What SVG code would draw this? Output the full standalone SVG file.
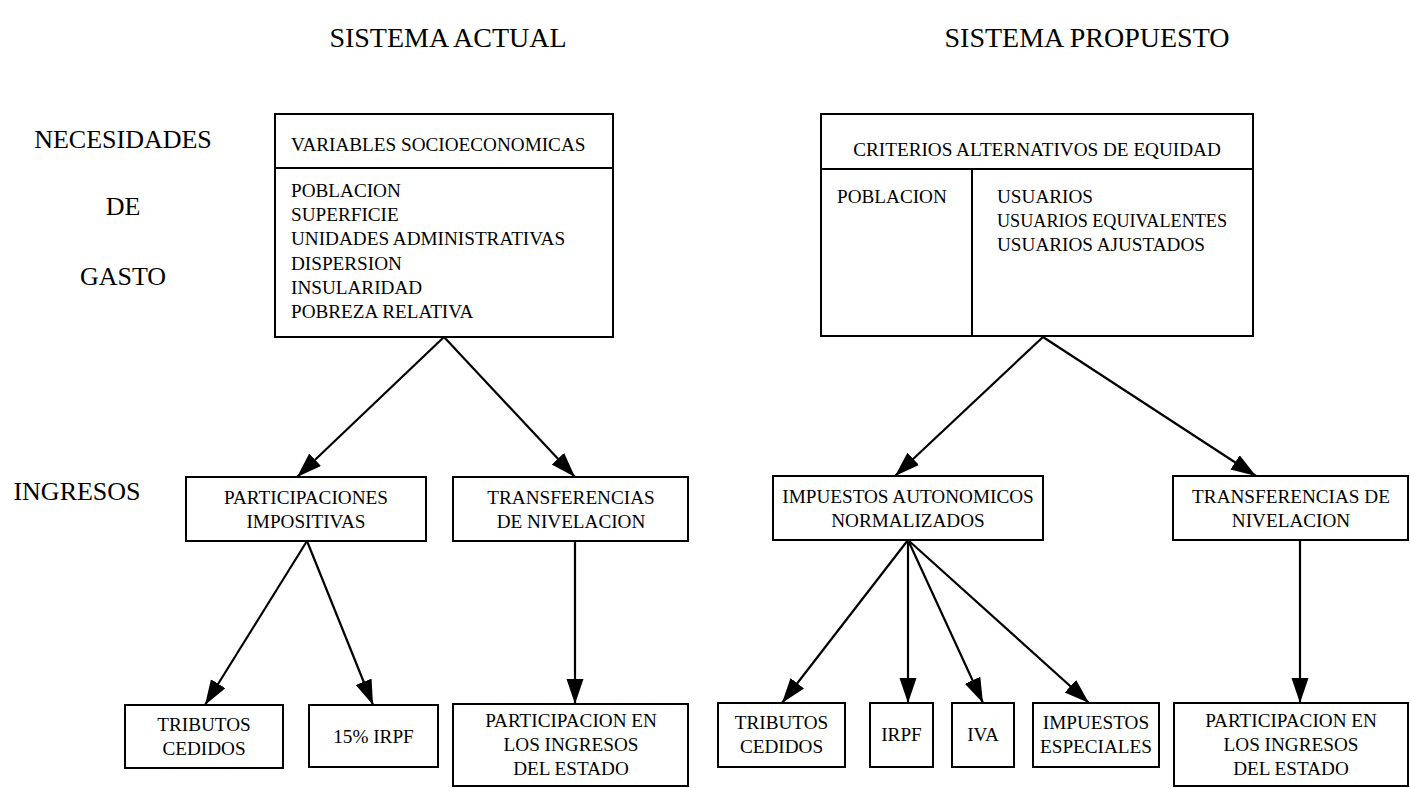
<svg xmlns="http://www.w3.org/2000/svg" width="1410" height="788" viewBox="0 0 1410 788">
<defs>
<style>
text{font-family:"Liberation Serif","Times New Roman",serif;fill:#000}
.t{font-size:28px;text-anchor:middle}
.s{font-size:26px;text-anchor:middle}
.b{font-size:19.2px}
.c{font-size:19.2px;text-anchor:middle}
.box{fill:#fff;stroke:#000;stroke-width:2}
.ln{fill:none;stroke:#000;stroke-width:2}
.ar{fill:none;stroke:#000;stroke-width:2.2;marker-end:url(#ah)}
</style>
<marker id="ah" markerWidth="28" markerHeight="20" refX="25" refY="8.5" orient="auto" markerUnits="userSpaceOnUse"><path d="M0,0 L25,8.5 L0,17 z" fill="#000"/></marker>
</defs>
<rect width="1410" height="788" fill="#fff"/>
<g id="titles">
<text class="t" x="448" y="47">SISTEMA ACTUAL</text>
<text class="t" x="1087" y="47">SISTEMA PROPUESTO</text>
</g>
<g id="row-labels">
<text class="s" x="123" y="148">NECESIDADES</text>
<text class="s" x="123" y="215">DE</text>
<text class="s" x="123" y="285">GASTO</text>
<text class="s" x="77" y="500">INGRESOS</text>
</g>
<g id="connectors">
<path class="ar" d="M444,337 L297,477"/>
<path class="ar" d="M444,337 L575,477"/>
<path class="ar" d="M307,541 L205,705"/>
<path class="ar" d="M307,541 L373,705"/>
<path class="ar" d="M575,541 L575,704"/>
<path class="ar" d="M1043,337 L895,476"/>
<path class="ar" d="M1043,337 L1256,476"/>
<path class="ar" d="M908,540 L782,703"/>
<path class="ar" d="M908,540 L908,703"/>
<path class="ar" d="M908,540 L983,703"/>
<path class="ar" d="M908,540 L1089,703"/>
<path class="ar" d="M1300,540 L1300,703"/>
</g>
<g id="variables">
<rect class="box" x="275" y="114" width="338" height="223"/>
<line class="ln" x1="275" y1="168" x2="613" y2="168"/>
<text class="b" x="291" y="151">VARIABLES SOCIOECONOMICAS</text>
<text class="b" x="291" y="197">POBLACION</text>
<text class="b" x="291" y="221">SUPERFICIE</text>
<text class="b" x="291" y="245">UNIDADES ADMINISTRATIVAS</text>
<text class="b" x="291" y="270">DISPERSION</text>
<text class="b" x="291" y="294">INSULARIDAD</text>
<text class="b" x="291" y="318">POBREZA RELATIVA</text>
</g>
<g id="criterios">
<rect class="box" x="821" y="114" width="432" height="222"/>
<line class="ln" x1="821" y1="169" x2="1253" y2="169"/>
<line class="ln" x1="972" y1="169" x2="972" y2="336"/>
<text class="c" x="1037" y="156">CRITERIOS ALTERNATIVOS DE EQUIDAD</text>
<text class="b" x="837" y="203">POBLACION</text>
<text class="b" x="997" y="203">USUARIOS</text>
<text class="b" x="997" y="227" textLength="230" lengthAdjust="spacingAndGlyphs">USUARIOS EQUIVALENTES</text>
<text class="b" x="997" y="251">USUARIOS AJUSTADOS</text>
</g>
<g id="participaciones">
<rect class="box" x="186" y="477" width="240" height="64"/>
<text class="c" x="306" y="504">PARTICIPACIONES</text>
<text class="c" x="306" y="528">IMPOSITIVAS</text>
</g>
<g id="transf-actual">
<rect class="box" x="453" y="477" width="235" height="64"/>
<text class="c" x="571" y="504">TRANSFERENCIAS</text>
<text class="c" x="571" y="528">DE NIVELACION</text>
</g>
<g id="impuestos-autonomicos">
<rect class="box" x="773" y="476" width="270" height="64"/>
<text class="c" x="908" y="503">IMPUESTOS AUTONOMICOS</text>
<text class="c" x="908" y="527">NORMALIZADOS</text>
</g>
<g id="transf-propuesto">
<rect class="box" x="1173" y="476" width="235" height="64"/>
<text class="c" x="1291" y="503">TRANSFERENCIAS DE</text>
<text class="c" x="1291" y="527">NIVELACION</text>
</g>
<g id="tributos-actual">
<rect class="box" x="125" y="705" width="158" height="63"/>
<text class="c" x="204" y="731">TRIBUTOS</text>
<text class="c" x="204" y="755">CEDIDOS</text>
</g>
<g id="irpf-15">
<rect class="box" x="309" y="705" width="129" height="62"/>
<text class="c" x="373.5" y="743">15% IRPF</text>
</g>
<g id="pie-actual">
<rect class="box" x="453" y="704" width="235" height="82"/>
<text class="c" x="571" y="727">PARTICIPACION EN</text>
<text class="c" x="571" y="751">LOS INGRESOS</text>
<text class="c" x="571" y="775">DEL ESTADO</text>
</g>
<g id="tributos-propuesto">
<rect class="box" x="718" y="703" width="127" height="64"/>
<text class="c" x="781.5" y="729">TRIBUTOS</text>
<text class="c" x="781.5" y="753">CEDIDOS</text>
</g>
<g id="irpf">
<rect class="box" x="870" y="703" width="63" height="64"/>
<text class="c" x="901.5" y="741">IRPF</text>
</g>
<g id="iva">
<rect class="box" x="952" y="703" width="62" height="64"/>
<text class="c" x="983" y="741">IVA</text>
</g>
<g id="impuestos-especiales">
<rect class="box" x="1033" y="703" width="126" height="64"/>
<text class="c" x="1096" y="729">IMPUESTOS</text>
<text class="c" x="1096" y="753">ESPECIALES</text>
</g>
<g id="pie-propuesto">
<rect class="box" x="1174" y="703" width="234" height="83"/>
<text class="c" x="1291" y="727">PARTICIPACION EN</text>
<text class="c" x="1291" y="751">LOS INGRESOS</text>
<text class="c" x="1291" y="775">DEL ESTADO</text>
</g>
</svg>
